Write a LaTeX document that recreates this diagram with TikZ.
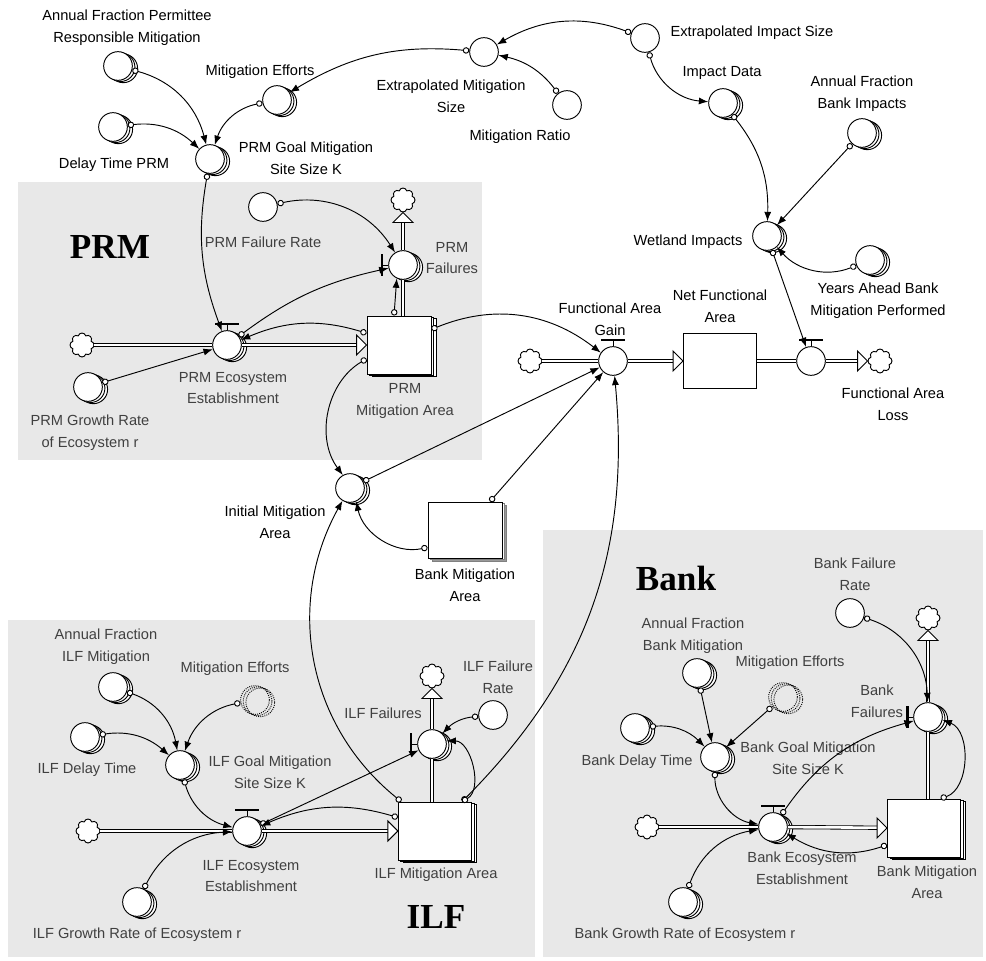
\documentclass[tikz,border=0pt]{standalone}
\usepackage{fontspec}
\setmainfont{Liberation Sans}
\newfontfamily\titlefont{Liberation Serif}
\usetikzlibrary{arrows.meta,shapes.symbols,shadows}

% handle of a flow valve, on top or on the left
\newcommand{\valvetop}[1]{\draw[line width=0.7pt] (#1.north) -- ++(0,-6);
  \draw[line width=2.2pt] (#1.north) ++(-12,-6) -- ++(24,0);}
\newcommand{\valveleft}[1]{\draw[line width=0.7pt] (#1.west) -- ++(-6,0);
  \draw[line width=2.2pt] (#1.west) ++(-6,-11) -- ++(0,22);}
% hollow heads of the flows
\newcommand{\headright}[1]{\draw[line width=0.8pt, fill=white] (#1.west) -- ++(-10,-10) -- ++(0,20) -- cycle;}
\newcommand{\headup}[1]{\draw[line width=0.8pt, fill=white] (#1.south) -- ++(-10,10) -- ++(20,0) -- cycle;}

\begin{document}
\begin{tikzpicture}[x=0.3mm, y=-0.3mm,
    conv/.style={circle, draw, line width=0.8pt, fill=white, minimum size=0.86cm, inner sep=0pt},
    arr/.style={copy shadow={shadow xshift=4.5pt, shadow yshift=-2pt, fill=white, draw=black},
                copy shadow={shadow xshift=2.2pt, shadow yshift=-1pt, fill=white, draw=black}},
    ghost/.style={circle, draw, densely dotted, line width=0.8pt, minimum size=0.86cm, inner sep=0pt,
                copy shadow={shadow xshift=4.5pt, shadow yshift=-2pt, fill=none, draw=black, densely dotted},
                copy shadow={shadow xshift=2.2pt, shadow yshift=-1pt, fill=none, draw=black, densely dotted}},
    stock/.style={rectangle, draw, line width=0.8pt, fill=white, inner sep=0pt},
    cloudy/.style={cloud, cloud puffs=8, aspect=1, draw, line width=0.8pt, fill=white, minimum width=0.72cm, minimum height=0.72cm, inner sep=0pt},
    lbl/.style={align=center, inner sep=0pt, font=\fontsize{12.5}{18.5}\selectfont},
    inlbl/.style={lbl, text=black!75},
    title/.style={inner sep=0pt, font=\fontsize{30}{30}\selectfont\titlefont\bfseries},
    region/.style={fill=black!9},
    link/.style={line width=0.8pt, {Circle[fill=white, length=5.5pt, width=5.5pt]}-{Latex[length=8pt, width=6pt]}},
    pipe/.style={double, double distance=2.2pt, line width=0.7pt},
    flow/.style={pipe, shorten >=0.3cm}]

  \useasboundingbox (0,0) rectangle (986,960);
  % shaded sectors
  \fill[region] (18,182) rectangle (482,460);
  \fill[region] (8,620) rectangle (535,957);
  \fill[region] (543,530) rectangle (983,957);

  % impacts and goals
  \node[conv, arr] (afprm) at (118,66) {};
  \node[lbl] (afprmL) at (127,28) {Annual Fraction Permittee\\Responsible Mitigation};
  \node[conv, arr] (mitEff) at (277,100) {};
  \node[lbl] (mitEffL) at (260,72) {Mitigation Efforts};
  \node[conv, arr] (delayPRM) at (113,127) {};
  \node[lbl] (delayPRML) at (114,165) {Delay Time PRM};
  \node[conv, arr] (goalPRM) at (210,159) {};
  \node[lbl] (goalPRML) at (306,158) {PRM Goal Mitigation\\Site Size K};
  \node[conv] (extMit) at (484,52) {};
  \node[lbl] (extMitL) at (451,96) {Extrapolated Mitigation\\Size};
  \node[conv] (mitRatio) at (567,105) {};
  \node[lbl] (mitRatioL) at (520,137) {Mitigation Ratio};
  \node[conv] (extImp) at (645,38) {};
  \node[lbl] (extImpL) at (752,33) {Extrapolated Impact Size};
  \node[conv, arr] (impData) at (723,103) {};
  \node[lbl] (impDataL) at (722,73) {Impact Data};
  \node[conv, arr] (afBankImp) at (862,133) {};
  \node[lbl] (afBankImpL) at (862,94) {Annual Fraction\\Bank Impacts};
  \node[conv, arr] (wetImp) at (767,236) {};
  \node[lbl] (wetImpL) at (688,242) {Wetland Impacts};
  \node[conv, arr] (yearsAhead) at (870,260) {};
  \node[lbl] (yearsAheadL) at (878,301) {Years Ahead Bank\\Mitigation Performed};

  % net functional area
  \node[cloudy] (cloudFA) at (530,361) {};
  \node[conv] (valveGain) at (613,361) {};
  \node[lbl] (valveGainL) at (610,319) {Functional Area\\Gain};
  \node[stock, minimum width=2.19cm, minimum height=1.65cm] (netFA) at (720,361) {};
  \node[lbl] (netFAL) at (720,306) {Net Functional\\Area};
  \node[conv] (valveLoss) at (811,361) {};
  \node[cloudy] (cloudLoss) at (880,361) {};
  \node[lbl] (valveLossL) at (893,404) {Functional Area\\Loss};

  % PRM
  \node[title] (prmTitle) at (110,247) {PRM};
  \node[conv] (prmRate) at (263,207) {};
  \node[inlbl] (prmRateL) at (263,242) {PRM Failure Rate};
  \node[cloudy] (cloudPRMf) at (403,200) {};
  \node[conv, arr] (prmFail) at (403,265) {};
  \node[inlbl] (prmFailL) at (452,258) {PRM\\Failures};
  \node[stock, arr, minimum width=1.92cm, minimum height=1.74cm] (prmStock) at (399,345) {};
  \node[inlbl] (prmStockL) at (405,401) {PRM\\Mitigation Area};
  \node[cloudy] (cloudPRM) at (82,345) {};
  \node[conv, arr] (prmEst) at (227,345) {};
  \node[inlbl] (prmEstL) at (233,388) {PRM Ecosystem\\Establishment};
  \node[conv, arr] (prmGrowth) at (88,387) {};
  \node[inlbl] (prmGrowthL) at (90,433) {PRM Growth Rate\\of Ecosystem r};

  % initial area
  \node[conv, arr] (initMit) at (350,488) {};
  \node[lbl] (initMitL) at (275,522) {Initial Mitigation\\Area};
  \node[stock, minimum width=2.22cm, minimum height=1.68cm,
    copy shadow={shadow xshift=4pt, shadow yshift=-3pt, fill=black!40, draw=black!50},
    copy shadow={shadow xshift=2pt, shadow yshift=-1.5pt, fill=white, draw=black!50}] (bankMitArea) at (465,530) {};
  \node[lbl] (bankMitAreaL) at (465,585) {Bank Mitigation\\Area};

  % ILF
  \node[title] (ilfTitle) at (436,917) {ILF};
  \node[conv, arr] (afILF) at (113,687) {};
  \node[inlbl] (afILFL) at (106,647) {Annual Fraction\\ILF Mitigation};
  \node[ghost] (mitEffILF) at (255,700) {};
  \node[inlbl] (mitEffILFL) at (235,669) {Mitigation Efforts};
  \node[conv, arr] (delayILF) at (85,737) {};
  \node[inlbl] (delayILFL) at (87,770) {ILF Delay Time};
  \node[conv, arr] (goalILF) at (180,765) {};
  \node[inlbl] (goalILFL) at (270,772) {ILF Goal Mitigation\\Site Size K};
  \node[cloudy] (cloudILF) at (88,831) {};
  \node[conv, arr] (ilfEst) at (247,831) {};
  \node[inlbl] (ilfEstL) at (251,876) {ILF Ecosystem\\Establishment};
  \node[stock, arr, minimum width=2.2cm, minimum height=1.74cm] (ilfStock) at (435,831) {};
  \node[inlbl] (ilfStockL) at (436,875) {ILF Mitigation Area};
  \node[conv, arr] (ilfGrowth) at (137,902) {};
  \node[inlbl] (ilfGrowthL) at (137,935) {ILF Growth Rate of Ecosystem r};
  \node[cloudy] (cloudILFf) at (432,676) {};
  \node[conv, arr] (ilfFail) at (432,744) {};
  \node[inlbl] (ilfFailL) at (383,713) {ILF Failures};
  \node[conv] (ilfRate) at (493,715) {};
  \node[inlbl] (ilfRateL) at (498,677) {ILF Failure\\Rate};

  % Bank
  \node[title] (bankTitle) at (676,578) {Bank};
  \node[conv, arr] (afBank) at (697,673) {};
  \node[inlbl] (afBankL) at (693,636) {Annual Fraction\\Bank Mitigation};
  \node[ghost] (mitEffBank) at (783,697) {};
  \node[inlbl] (mitEffBankL) at (790,663) {Mitigation Efforts};
  \node[conv] (bankRate) at (850,613) {};
  \node[inlbl] (bankRateL) at (855,574) {Bank Failure\\Rate};
  \node[cloudy] (cloudBankf) at (928,618) {};
  \node[conv, arr] (bankFail) at (928,717) {};
  \node[inlbl] (bankFailL) at (877,701) {Bank\\Failures};
  \node[conv, arr] (delayBank) at (635,728) {};
  \node[inlbl] (delayBankL) at (637,762) {Bank Delay Time};
  \node[conv, arr] (goalBank) at (715,757) {};
  \node[inlbl] (goalBankL) at (808,758) {Bank Goal Mitigation\\Site Size K};
  \node[cloudy] (cloudBank) at (647,827) {};
  \node[conv, arr] (bankEst) at (773,827) {};
  \node[inlbl] (bankEstL) at (802,868) {Bank Ecosystem\\Establishment};
  \node[stock, arr, minimum width=2.19cm, minimum height=1.74cm] (bankStock) at (924,828) {};
  \node[inlbl] (bankStockL) at (927,882) {Bank Mitigation\\Area};
  \node[conv, arr] (bankGrowth) at (683,902) {};
  \node[inlbl] (bankGrowthL) at (685,935) {Bank Growth Rate of Ecosystem r};

  % flows
  \draw[pipe] (cloudFA) -- (valveGain);
  \draw[flow] (valveGain) -- (netFA); \headright{netFA}
  \draw[pipe] (netFA) -- (valveLoss);
  \draw[flow] (valveLoss) -- (cloudLoss); \headright{cloudLoss}
  \draw[pipe] (cloudPRM) -- (prmEst);
  \draw[flow] (prmEst) -- (prmStock); \headright{prmStock}
  \draw[pipe] (prmFail.south |- prmStock.north) -- (prmFail);
  \draw[flow] (prmFail) -- (cloudPRMf); \headup{cloudPRMf}
  \draw[pipe] (cloudILF) -- (ilfEst);
  \draw[flow] (ilfEst) -- (ilfStock); \headright{ilfStock}
  \draw[pipe] (ilfFail.south |- ilfStock.north) -- (ilfFail);
  \draw[flow] (ilfFail) -- (cloudILFf); \headup{cloudILFf}
  \draw[pipe] (cloudBank) -- (bankEst);
  \draw[flow] (bankEst) -- (bankStock); \headright{bankStock}
  \draw[pipe] (bankFail.south |- bankStock.north) -- (bankFail);
  \draw[flow] (bankFail) -- (cloudBankf); \headup{cloudBankf}
  \valvetop{valveGain} \valvetop{valveLoss} \valvetop{prmEst}
  \valvetop{ilfEst} \valvetop{bankEst}
  \valveleft{prmFail} \valveleft{ilfFail} \valveleft{bankFail}

  % links at the top
  \draw[link] (afprm) to[bend left=30] (goalPRM);
  \draw[link] (mitEff) to[bend right=30] (goalPRM);
  \draw[link] (delayPRM) to[bend left=25] (goalPRM);
  \draw[link] (extMit) to[bend right=18] (mitEff);
  \draw[link] (mitRatio) to[bend right=20] (extMit);
  \draw[link] (extImp) to[bend right=25] (extMit);
  \draw[link] (extImp) to[bend right=35] (impData);
  \draw[link] (impData) to[bend left=20] (wetImp);
  \draw[link] (afBankImp) -- (wetImp);
  \draw[link] (yearsAhead) to[bend left=35] (wetImp);
  \draw[link] (wetImp) -- (valveLoss);

  % links of PRM
  \draw[link] (goalPRM) to[bend right=15] (prmEst);
  \draw[link] (prmRate) to[bend left=35] (prmFail);
  \draw[link] (prmEst) to[bend left=12] (prmFail);
  \draw[link] (prmStock) to[bend right=20] (prmEst);
  \draw[link] ([xshift=-0.15cm]prmStock.north) -- (prmFail.245);
  \draw[link] (prmGrowth) -- (prmEst);
  \draw[link] (prmStock) to[bend left=30] (valveGain);
  \draw[link] (prmStock) to[bend right=48] (initMit);

  % links to the gain
  \draw[link] (initMit) -- (valveGain);
  \draw[link] (bankMitArea) to[bend left=45] (initMit);
  \draw[link] ([xshift=0.75cm]bankMitArea.north) -- (valveGain);
  \draw[link] ([xshift=-0.3cm]ilfStock.north east) to[bend right=25] (valveGain);
  \draw[link] ([xshift=0.1cm]ilfStock.north west) to[bend left=40] (initMit);

  % links of ILF
  \draw[link] (afILF) to[bend left=30] (goalILF);
  \draw[link] (mitEffILF) to[bend right=30] (goalILF);
  \draw[link] (delayILF) to[bend left=25] (goalILF);
  \draw[link] (goalILF) to[bend right=30] (ilfEst);
  \draw[link] (ilfGrowth) to[bend left=30] (ilfEst);
  \draw[link] (ilfEst) -- (ilfFail);
  \draw[link] (ilfStock) to[bend right=20] (ilfEst);
  \draw[link] (ilfRate) to[bend right=20] (ilfFail);
  \draw[link] ([xshift=-0.3cm]ilfStock.north east) to[bend right=75] (ilfFail);

  % links of Bank
  \draw[link] (bankRate) to[bend left=35] (bankFail);
  \draw[link] (afBank) -- (goalBank);
  \draw[link] (mitEffBank) -- (goalBank);
  \draw[link] (delayBank) to[bend left=25] (goalBank);
  \draw[link] (goalBank) to[bend right=40] (bankEst);
  \draw[link] (bankGrowth) to[bend left=30] (bankEst);
  \draw[link] (bankEst) to[bend left=20] (bankFail);
  \draw[link] (bankStock) to[bend left=25] (bankEst);
  \draw[link] ([xshift=0.5cm]bankStock.north) to[bend right=70] (bankFail);
\end{tikzpicture}
\end{document}
